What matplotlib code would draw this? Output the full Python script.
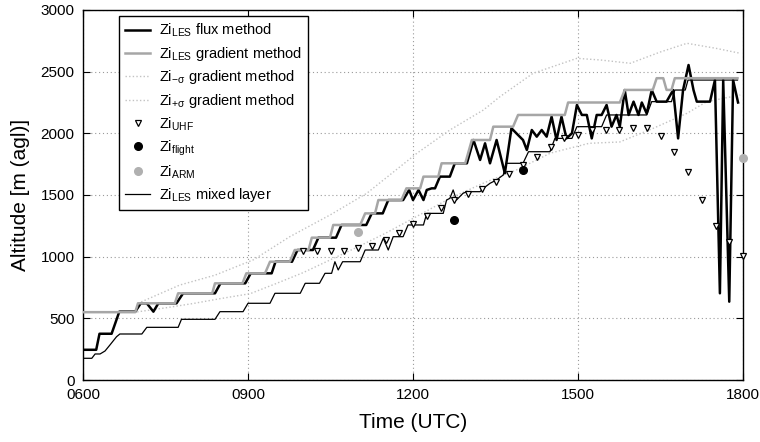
import matplotlib
matplotlib.use('Agg')
import matplotlib.pyplot as plt

plt.rcParams['font.family'] = ['Liberation Sans', 'DejaVu Sans']
plt.rcParams['mathtext.fontset'] = 'custom'
plt.rcParams['mathtext.rm'] = 'Liberation Sans'
plt.rcParams['mathtext.it'] = 'Liberation Sans:italic'

# ---- data (time in hours UTC, altitude in m agl) ----
flux_t = [6.0, 6.24, 6.3, 6.52, 6.66, 6.95, 7.05, 7.16, 7.28, 7.37, 7.7, 7.82, 8.4, 8.5,
          8.95, 9.05, 9.43, 9.5, 9.8, 9.9, 10.18, 10.28, 10.6, 10.7, 11.15, 11.25, 11.45,
          11.55, 11.82, 11.93, 12.0, 12.1, 12.19, 12.25, 12.34, 12.4, 12.49, 12.67, 12.76,
          12.98, 13.1, 13.22, 13.31, 13.4, 13.52, 13.67, 13.79, 13.88, 14.0, 14.07, 14.16,
          14.25, 14.34, 14.43, 14.52, 14.61, 14.7, 14.79, 14.89, 14.98, 15.07, 15.16, 15.25,
          15.34, 15.43, 15.52, 15.61, 15.7, 15.76, 15.85, 15.92, 16.01, 16.1, 16.16, 16.25,
          16.34, 16.43, 16.61, 16.73, 16.82, 16.91, 17.01, 17.1, 17.16, 17.4, 17.49, 17.58,
          17.64, 17.75, 17.82, 17.91]
flux_z = [245, 245, 375, 375, 554, 554, 622, 622, 554, 622, 622, 703, 703, 784,
          784, 865, 865, 959, 959, 1054, 1054, 1154, 1154, 1257, 1257, 1351, 1351,
          1459, 1459, 1541, 1459, 1541, 1459, 1541, 1554, 1554, 1649, 1649, 1757,
          1757, 1946, 1784, 1919, 1757, 1946, 1676, 2041, 2000, 1946, 1865, 2027,
          1973, 2027, 1973, 2135, 1946, 2135, 1959, 2000, 2230, 2149, 2149, 1959,
          2149, 2149, 2230, 2054, 2149, 2054, 2351, 2149, 2257, 2149, 2250, 2160,
          2351, 2257, 2257, 2351, 1959, 2351, 2554, 2351, 2257, 2257, 2432, 703,
          2432, 635, 2432, 2250]

grad_t = [6.0, 6.95, 7.0, 7.67, 7.73, 8.35, 8.4, 8.9, 8.97, 9.31, 9.4, 9.76, 9.85, 10.1,
          10.16, 10.49, 10.55, 11.04, 11.13, 11.31, 11.37, 11.79, 11.88, 12.13, 12.19,
          12.46, 12.52, 12.95, 13.07, 13.4, 13.46, 13.82, 13.91, 14.76, 14.82, 15.76,
          15.85, 16.36, 16.43, 16.55, 16.61, 16.7, 16.76, 17.9]
grad_z = [550, 550, 622, 622, 703, 703, 784, 784, 865, 865, 959, 959, 1054, 1054,
          1154, 1154, 1257, 1257, 1351, 1351, 1459, 1459, 1554, 1554, 1649,
          1649, 1757, 1757, 1946, 1946, 2054, 2054, 2149, 2149, 2250, 2250,
          2352, 2352, 2447, 2447, 2352, 2352, 2447, 2447]

minus_t = [6.0, 6.95, 7.5, 8.0, 8.5, 9.04, 9.5, 10.0, 10.5, 11.0, 11.5, 12.0, 12.67, 13.3,
           13.88, 14.5, 15.2, 15.76, 16.37, 16.98, 17.34, 17.95]
minus_z = [550, 550, 585, 620, 660, 700, 780, 870, 975, 1080, 1190, 1310, 1473, 1600,
           1703, 1840, 1919, 1930, 2041, 2162, 2257, 2311]

plus_t = [6.0, 6.95, 7.0, 7.76, 8.4, 9.1, 9.76, 10.5, 11.16, 12.07, 12.67, 13.28, 13.58,
          14.18, 14.98, 15.4, 15.95, 16.5, 16.98, 17.5, 17.95]
plus_z = [550, 550, 622, 770, 850, 975, 1162, 1340, 1514, 1838, 2027, 2189, 2297,
          2486, 2608, 2595, 2568, 2660, 2730, 2690, 2649]

uhf_t = [10.0, 10.25, 10.5, 10.75, 11.0, 11.25, 11.5, 11.75, 12.0, 12.25, 12.5, 12.75,
         13.0, 13.25, 13.5, 13.75, 14.0, 14.25, 14.5, 14.75, 15.0, 15.25, 15.5, 15.75,
         16.0, 16.25, 16.5, 16.75, 17.0, 17.25, 17.5, 17.75, 18.0]
uhf_z = [1045, 1045, 1045, 1048, 1068, 1087, 1135, 1192, 1268, 1330, 1392, 1459,
         1505, 1546, 1608, 1670, 1743, 1811, 1892, 1965, 1986, 2027, 2027, 2027,
         2041, 2041, 1980, 1851, 1685, 1459, 1251, 1122, 1008]

flight_t = [12.75, 14.0]
flight_z = [1300, 1703]

arm_t = [11.0, 18.0]
arm_z = [1200, 1800]

mixed_t = [6.0, 6.16, 6.22, 6.31, 6.4, 6.49, 6.61, 6.67, 7.07, 7.16, 7.73, 7.79, 8.4, 8.49,
           8.91, 9.0, 9.4, 9.49, 9.95, 10.04, 10.3, 10.4, 10.52, 10.58, 10.64, 10.72,
           11.04, 11.13, 11.37, 11.46, 11.55, 11.64, 11.82, 11.91, 12.19, 12.25, 12.55,
           12.61, 12.67, 12.73, 12.79, 12.91, 12.98, 13.22, 13.28, 13.4, 13.52, 13.64,
           13.7, 14.0, 14.1, 14.49, 14.58, 14.89, 14.98, 15.43, 15.52, 16.25, 16.34,
           16.7, 16.76, 16.95, 17.0, 17.9]
mixed_z = [176, 176, 211, 211, 235, 284, 351, 373, 373, 427, 427, 492, 492, 554,
           554, 622, 622, 703, 703, 784, 784, 865, 865, 959, 892, 959,
           959, 1054, 1054, 1149, 1054, 1162, 1162, 1257, 1257, 1351, 1351,
           1459, 1473, 1541, 1459, 1514, 1527, 1527, 1554, 1595, 1622, 1662,
           1757, 1757, 1851, 1851, 1959, 1959, 2054, 2054, 2149, 2149, 2257,
           2257, 2351, 2351, 2432, 2432]

xticks = [6, 9, 12, 15, 18]
xticklabels = ['0600', '0900', '1200', '1500', '1800']
yticks = [0, 500, 1000, 1500, 2000, 2500, 3000]

labels = ['Zi$_{\\mathregular{LES}}$ flux method',
          'Zi$_{\\mathregular{LES}}$ gradient method',
          'Zi$_{\\mathregular{−σ}}$ gradient method',
          'Zi$_{\\mathregular{+σ}}$ gradient method',
          'Zi$_{\\mathregular{UHF}}$',
          'Zi$_{\\mathregular{flight}}$',
          'Zi$_{\\mathregular{ARM}}$',
          'Zi$_{\\mathregular{LES}}$ mixed layer']

for a, b in [(flux_t, flux_z), (grad_t, grad_z), (minus_t, minus_z), (plus_t, plus_z),
             (uhf_t, uhf_z), (mixed_t, mixed_z)]:
    assert len(a) == len(b), (len(a), len(b))

fig = plt.figure(figsize=(7.6, 4.42), dpi=100)
ax = fig.add_axes([83 / 760, 62 / 442, 660 / 760, 370 / 442])

dot = (0, (1, 1.6))
l_mixed, = ax.plot(mixed_t, mixed_z, color='black', lw=0.9, zorder=3)
l_minus, = ax.plot(minus_t, minus_z, color='#c2c2c2', lw=1.0, ls=dot, zorder=2)
l_plus, = ax.plot(plus_t, plus_z, color='#c2c2c2', lw=1.0, ls=dot, zorder=2)
l_flux, = ax.plot(flux_t, flux_z, color='black', lw=1.8, zorder=4)
l_grad, = ax.plot(grad_t, grad_z, color='#a6a6a6', lw=1.8, zorder=5)
l_uhf, = ax.plot(uhf_t, uhf_z, ls='none', marker='v', mfc='white', mec='black',
                 ms=5, mew=0.9, clip_on=False, zorder=6)
l_flight, = ax.plot(flight_t, flight_z, ls='none', marker='o', color='black',
                    ms=5.5, clip_on=False, zorder=6)
l_arm, = ax.plot(arm_t, arm_z, ls='none', marker='o', color='#b0b0b0',
                 ms=5.5, clip_on=False, zorder=6)

ax.set_xlim(6, 18)
ax.set_ylim(0, 3000)
ax.set_xticks(xticks)
ax.set_xticklabels(xticklabels)
ax.set_yticks(yticks)
ax.grid(True, ls=(0, (1, 2.5)), color='#9a9a9a', lw=0.8)
ax.set_axisbelow(True)
ax.tick_params(direction='in', top=True, right=True, length=5, width=0.8,
               labelsize=11, pad=6)
for s in ax.spines.values():
    s.set_linewidth(1.0)
    s.set_color('black')

ax.set_xlabel('Time (UTC)', fontsize=15, labelpad=8)
ax.set_ylabel('Altitude [m (agl)]', fontsize=15, labelpad=8)

handles = [l_flux, l_grad, l_minus, l_plus, l_uhf, l_flight, l_arm, l_mixed]
leg = ax.legend(handles, labels, loc='upper left', bbox_to_anchor=(36 / 660, 1 - 6 / 370),
                borderaxespad=0, fontsize=10.5, frameon=True, fancybox=False,
                edgecolor='black', framealpha=1, handlelength=1.75, handletextpad=0.6,
                labelspacing=0.38, numpoints=1, borderpad=0.4)
leg.get_frame().set_linewidth(1.0)
leg.set_zorder(10)

fig.savefig('out.png', dpi=100)
